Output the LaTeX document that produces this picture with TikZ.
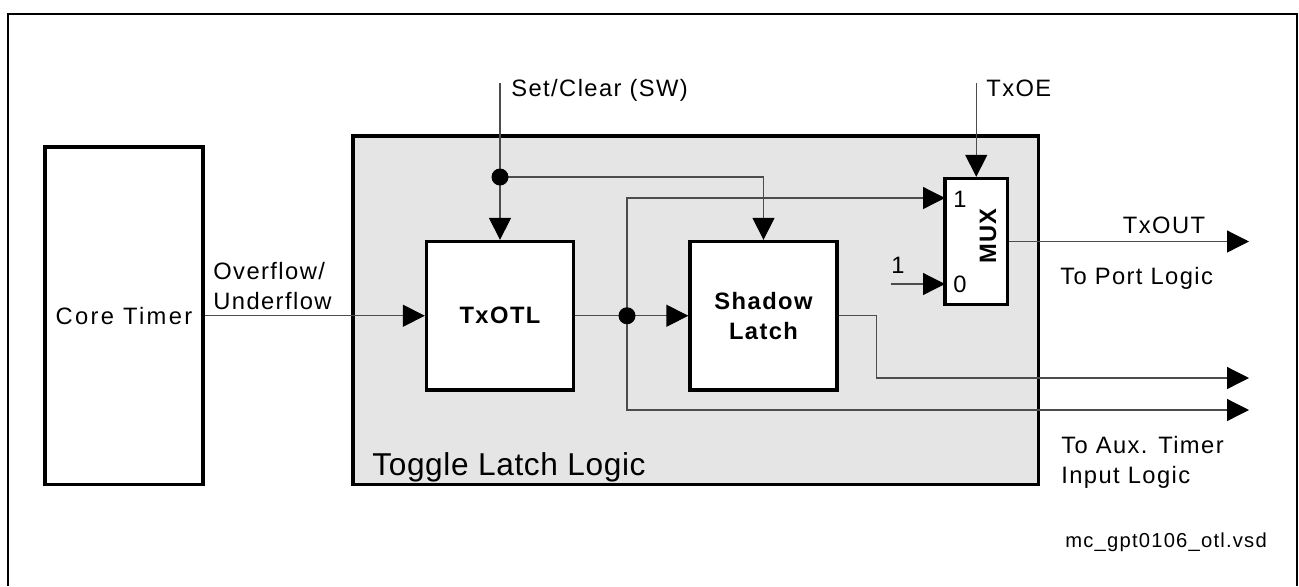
\documentclass[tikz,border=0pt]{standalone}
\usepackage{fontspec}
\setmainfont{Liberation Sans}[LetterSpace=6]
\usetikzlibrary{arrows.meta}

\begin{document}
\begin{tikzpicture}[x=0.02cm,y=-0.02cm,
    >={Triangle[length=12.5pt,width=12.5pt,color=black]},
    font=\fontsize{13.5}{17}\selectfont,
    block/.style={draw,line width=1.9pt,fill=white,inner sep=0pt,
        align=center,font=\fontsize{13.5}{17}\selectfont\bfseries},
    wire/.style={draw=black!70,line width=0.7pt},
    tag/.style={inner sep=0pt,anchor=base west}]
    \useasboundingbox (0,0) rectangle (1299,586);

    % page frame, open at the bottom
    \draw[line width=1.1pt] (8,586) |- (1297,14) -- (1297,586);

    % toggle latch group
    \draw[line width=1.9pt,fill=black!10] (353,136) rectangle (1038.5,484.5);
    \node[tag,font=\fontsize{18}{21}\selectfont\addfontfeature{LetterSpace=2}]
        (group-label) at (372,475) {Toggle Latch Logic};

    % blocks
    \node[block,font=\fontsize{13.5}{17}\selectfont\addfontfeature{LetterSpace=10},
        minimum width=3.16cm,minimum height=6.75cm]
        (core) at (124,315.75) {Core Timer};
    \node[block,minimum width=2.94cm,minimum height=2.97cm]
        (txotl) at (500,315.75) {TxOTL};
    \node[block,minimum width=2.94cm,minimum height=2.97cm]
        (shadow) at (763.5,315.75) {Shadow\\Latch};
    \node[block,minimum width=1.25cm,minimum height=2.52cm]
        (mux) at (976.25,241.5) {};
    \node[rotate=90,inner sep=0pt,font=\fontsize{13.5}{17}\selectfont\bfseries]
        (mux-label) at (988,236) {MUX};
    \node[tag] (mux-one) at (953,207) {1};
    \node[tag] (mux-zero) at (953,292) {0};

    % free ends
    \coordinate (set-in) at (500,83);
    \coordinate (set-dot) at (500,177);
    \coordinate (oe-in) at (976.25,83);
    \coordinate (split) at (627,315.75);
    \coordinate (mux-in1) at (945,198);
    \coordinate (mux-in0) at (945,284);
    \coordinate (const-in) at (891,284);
    \coordinate (txout) at (1249,241.5);
    \coordinate (aux-out1) at (1249,378);
    \coordinate (aux-out2) at (1249,410);

    % connectors
    \draw[wire,->] (core.east) -- (txotl.west);
    \draw[wire,->] (set-in) -- (txotl.north);
    \draw[wire,->] (set-dot) -| (shadow.north);
    \draw[wire,->] (oe-in) -- (mux.north);
    \draw[wire] (txotl.east) -- (split);
    \draw[wire,->] (split) -- (shadow.west);
    \draw[wire,->] (split) |- (mux-in1);
    \draw[wire,->] (split) |- (aux-out2);
    \draw[wire,->] (shadow.east) -- ++(38,0) |- (aux-out1);
    \draw[wire,->] (mux.east) -- (txout);
    \draw[wire,->] (const-in) -- (mux-in0);
    \fill (set-dot) circle[radius=0.17cm];
    \fill (split) circle[radius=0.17cm];

    % labels
    \node[tag] (set-label) at (511,96) {Set/Clear (SW)};
    \node[tag] (oe-label) at (986,96) {TxOE};
    \node[tag] (const-label) at (891,273) {1};
    \node[inner sep=0pt,anchor=south west,align=left]
        (flow-label) at (213,310) {Overflow/\\Underflow};
    \node[inner sep=0pt,anchor=base] (txout-label) at (1164,233) {TxOUT};
    \node[tag] (port-label) at (1060,284) {To Port Logic};
    \node[inner sep=0pt,anchor=north west,align=left]
        (aux-label) at (1061,436) {To Aux. Timer\\Input Logic};
    \node[tag,font=\fontsize{11.5}{14}\selectfont]
        (file-label) at (1065,547) {mc\_gpt0106\_otl.vsd};
\end{tikzpicture}
\end{document}
